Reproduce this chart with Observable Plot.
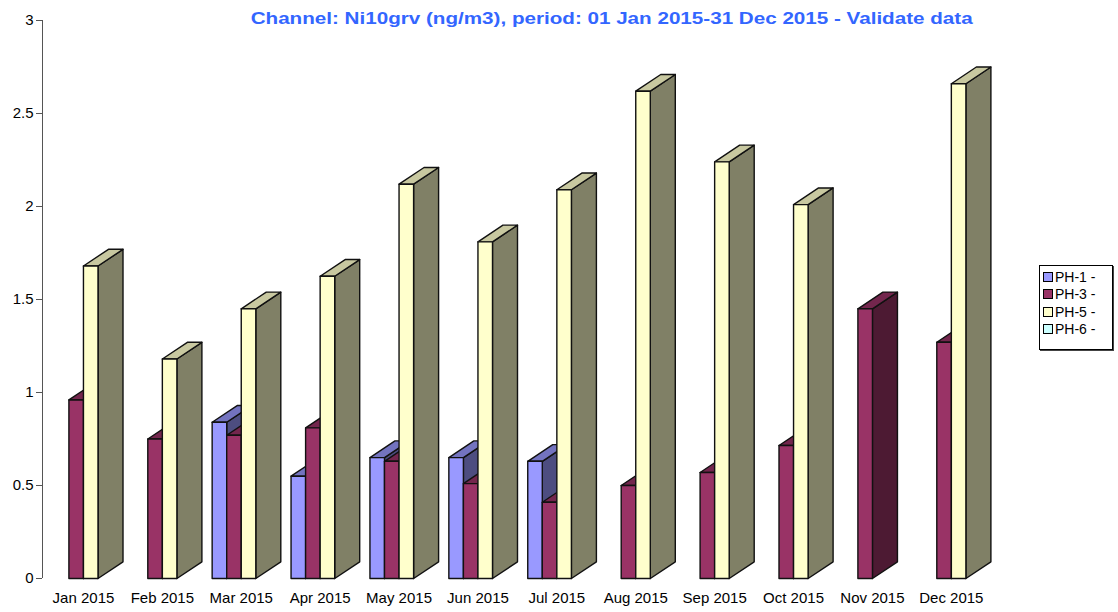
<!DOCTYPE html>
<html>
<head>
<meta charset="utf-8">
<script src="https://cdn.jsdelivr.net/npm/d3@7"></script>
<script src="https://cdn.jsdelivr.net/npm/@observablehq/plot@0.6"></script>
<style>
  body { margin: 0; background: #fff; }
  #wrap { position: relative; width: 1118px; height: 612px; overflow: hidden; }
  #legend { position: absolute; left: 1039px; top: 265px; width: 74px; height: 85px; border: 1px solid #000;
            box-shadow: 1px 1px 0 #444; box-sizing: border-box; background: #fff;
            font: 14px "Liberation Sans", Arial, sans-serif; color: #000; }
  .item { position: absolute; left: 3px; height: 15px; display: flex; align-items: center; white-space: nowrap; }
  .sw { width: 10px; height: 10px; border: 1px solid #000; margin-right: 2px; box-sizing: border-box; }
</style>
</head>
<body>
<div id="wrap"></div>
<script>
// ---- data ----
const months = ["Jan 2015","Feb 2015","Mar 2015","Apr 2015","May 2015","Jun 2015",
                "Jul 2015","Aug 2015","Sep 2015","Oct 2015","Nov 2015","Dec 2015"];
const series = ["PH-1 -","PH-3 -","PH-5 -","PH-6 -"];
const ph1 = [null, null, 0.84, 0.55, 0.65, 0.65, 0.63, null, null, null, null, null];
const ph3 = [0.96, 0.75, 0.77, 0.81, 0.63, 0.51, 0.41, 0.50, 0.57, 0.715, 1.45, 1.27];
const ph5 = [1.68, 1.18, 1.45, 1.625, 2.12, 1.81, 2.09, 2.62, 2.24, 2.01, null, 2.66];
const ph6 = [null, null, null, null, null, null, null, null, null, null, null, null];
const yTicks = [0, 0.5, 1, 1.5, 2, 2.5, 3];
const title = "Channel: Ni10grv (ng/m3), period: 01 Jan 2015-31 Dec 2015 - Validate data";

// ---- styles ----
const frontColors = ["#9999ff", "#993366", "#ffffcc", "#ccffff"];
const topColors   = ["#7373bf", "#73264d", "#c8c8a0", "#99bfbf"];
const sideColors  = ["#4d4d80", "#4d1a33", "#808066", "#668080"];

const W = 1118, H = 612;
const xRange = [43.5, 990.3], yRange = [578, 20];
const xDomain = [-0.5, 11.5], yDomain = [0, 3];
const pxX = (xDomain[1] - xDomain[0]) / (xRange[1] - xRange[0]);
const pxY = (yDomain[1] - yDomain[0]) / (yRange[0] - yRange[1]);
const bw = 14.55 * pxX;       // bar width in x units
const dX = 25 * pxX;          // depth offset
const dY = 16.7 * pxY;

const values = [ph1, ph3, ph5, ph6];
const pts = [];
let pid = 0;
function poly(coords, fill) {
  const id = pid++;
  coords.concat([coords[0]]).forEach(([x, y]) => pts.push({x, y, id, fill}));
}
months.forEach((m, i) => {
  series.forEach((s, k) => {
    const v = values[k][i];
    if (v == null) return;
    const xl = i + (k - 2) * bw, xr = xl + bw;
    poly([[xr, 0], [xr + dX, dY], [xr + dX, v + dY], [xr, v]], sideColors[k]);
    poly([[xl, v], [xr, v], [xr + dX, v + dY], [xl + dX, v + dY]], topColors[k]);
    poly([[xl, 0], [xr, 0], [xr, v], [xl, v]], frontColors[k]);
  });
});

const chart = Plot.plot({
  width: W, height: H,
  marginLeft: 42, marginRight: W - xRange[1], marginTop: 20, marginBottom: 34,
  style: { fontFamily: "'Liberation Sans', Arial, sans-serif", fontSize: "15px", color: "#000", background: "#fff" },
  x: { domain: xDomain, range: xRange },
  y: { domain: yDomain, range: yRange },
  color: { type: "identity" },
  marks: [
    Plot.axisY({ ticks: yTicks, tickFormat: d => String(d), tickSize: 6, tickPadding: 3, anchor: "left", stroke: "#555", fill: "#000", label: null }),
    Plot.axisX({ ticks: d3.range(months.length), tickFormat: i => months[i], tickSize: 0, tickPadding: 14, label: null }),
    Plot.ruleX([xDomain[0]], { dx: -1.5, stroke: "#555" }),
    Plot.line(pts, { x: "x", y: "y", z: "id", fill: "fill", stroke: "#111", strokeWidth: 1.4, strokeLinejoin: "round", curve: "linear" }),
    Plot.text([title], { text: d => d, frameAnchor: "top", dx: 95, dy: -2, lineAnchor: "middle",
                          fontWeight: "bold", fontSize: 16.5, fill: "#3366ff" })
  ]
});
// stretch the title glyphs horizontally like the reference rendering
d3.select(chart).selectAll("text")
  .filter(function() { return this.textContent === title; })
  .attr("textLength", 722).attr("lengthAdjust", "spacingAndGlyphs");
const wrap = document.getElementById("wrap");
wrap.appendChild(chart);

// legend
const legend = document.createElement("div");
legend.id = "legend";
series.forEach((s, k) => {
  const it = document.createElement("div");
  it.className = "item";
  it.style.top = (3 + k * 17.5) + "px";
  const sw = document.createElement("div");
  sw.className = "sw";
  sw.style.background = frontColors[k];
  it.appendChild(sw);
  it.appendChild(document.createTextNode(s));
  legend.appendChild(it);
});
wrap.appendChild(legend);
</script>
</body>
</html>
